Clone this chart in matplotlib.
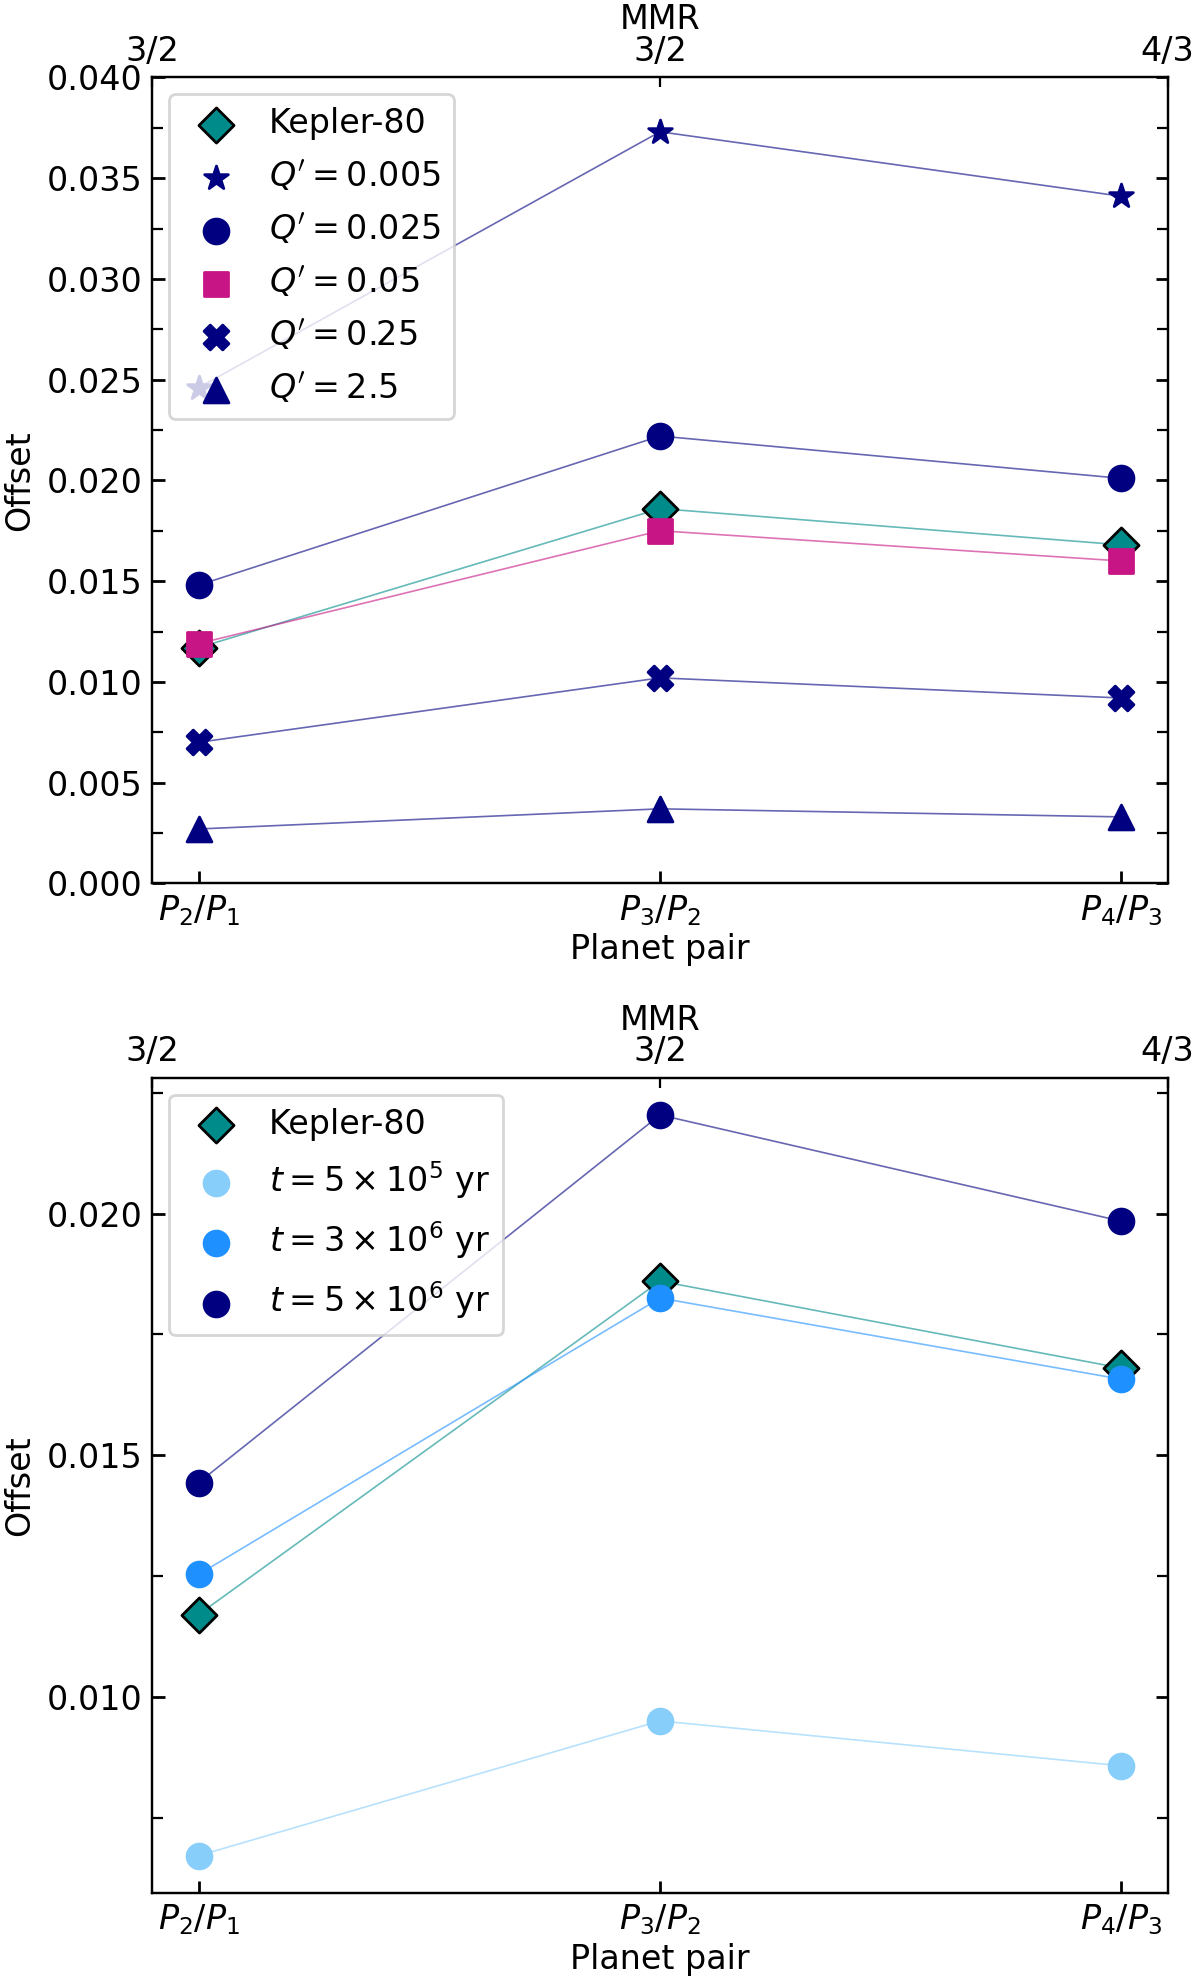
import numpy as np
import matplotlib
matplotlib.use("Agg")
import matplotlib.pyplot as plt

# planet pairs and resonances
pairs = ["$P_2/P_1$", "$P_3/P_2$", "$P_4/P_3$"]
mmr = ["3/2", "3/2", "4/3"]

# observed offsets
kepler80 = [0.0117, 0.0186, 0.0168]

# top panel: different Q'
q_labels = ["$Q'=0.005$", "$Q'=0.025$", "$Q'=0.05$", "$Q'=0.25$", "$Q'=2.5$"]
q_0005 = [0.0246, 0.0373, 0.0341]
q_0025 = [0.0148, 0.0222, 0.0201]
q_005 = [0.0119, 0.0175, 0.0160]
q_025 = [0.0070, 0.0102, 0.0092]
q_25 = [0.0027, 0.0037, 0.0033]

# bottom panel: different times
t_labels = [r"$t=5\times10^5$ yr", r"$t=3\times10^6$ yr", r"$t=5\times10^6$ yr"]
t_5e5 = [0.00671, 0.00950, 0.00857]
t_3e6 = [0.01253, 0.01825, 0.01657]
t_5e6 = [0.01443, 0.02204, 0.01984]

plt.rcParams['font.size'] = 12

x = np.arange(len(pairs))


def series(ax, y, color, marker, label, s=80, lcolor=None, **kw):
    ax.plot(x, y, '-', color=lcolor or color, lw=0.6, alpha=0.6, zorder=2)
    ax.scatter(x, y, color=color, marker=marker, s=s, label=label, zorder=3, **kw)


def style(ax):
    ax.set_xticks(x)
    ax.set_xticklabels(pairs)
    ax.set_xlabel("Planet pair", labelpad=2)
    ax.set_ylabel("Offset")
    ax.yaxis.set_major_locator(plt.MultipleLocator(0.005))
    ax.yaxis.set_minor_locator(plt.MultipleLocator(0.0025))
    ax.tick_params(which='both', direction='in', top=True, right=True)
    ax.tick_params(which='major', length=4.5, width=1.0)
    ax.tick_params(which='minor', length=4, width=0.8)
    ax.tick_params(axis='x', which='minor', top=False, bottom=False)
    ax.legend(loc='upper left', fontsize=12, labelspacing=0.55, handletextpad=0.6)
    top = ax.twiny()
    top.set_xticks([0, 0.5, 1])
    top.set_xticklabels(mmr)
    top.tick_params(direction='in')
    top.set_xlabel("MMR", labelpad=2)


fig, (ax1, ax2) = plt.subplots(2, 1, figsize=(6, 9.92), dpi=200,
                               gridspec_kw={'height_ratios': [638, 645]})
fig.subplots_adjust(left=0.127, right=0.973, top=0.961, bottom=0.046, hspace=0.24)

series(ax1, kepler80, 'darkcyan', 'D', 'Kepler-80', s=80, edgecolors='black', linewidths=1.0)
series(ax1, q_0005, 'navy', '*', q_labels[0], s=80)
series(ax1, q_0025, 'navy', 'o', q_labels[1], s=80)
series(ax1, q_005, 'mediumvioletred', 's', q_labels[2], s=70)
series(ax1, q_025, 'navy', 'X', q_labels[3], s=80)
series(ax1, q_25, 'navy', '^', q_labels[4], s=80)
ax1.set_ylim(0, 0.04)
style(ax1)

series(ax2, kepler80, 'darkcyan', 'D', 'Kepler-80', s=80, edgecolors='black', linewidths=1.0)
series(ax2, t_5e5, 'lightskyblue', 'o', t_labels[0], s=80)
series(ax2, t_3e6, 'dodgerblue', 'o', t_labels[1], s=80)
series(ax2, t_5e6, 'navy', 'o', t_labels[2], s=80)
style(ax2)

fig.savefig("out.png", dpi=200)
